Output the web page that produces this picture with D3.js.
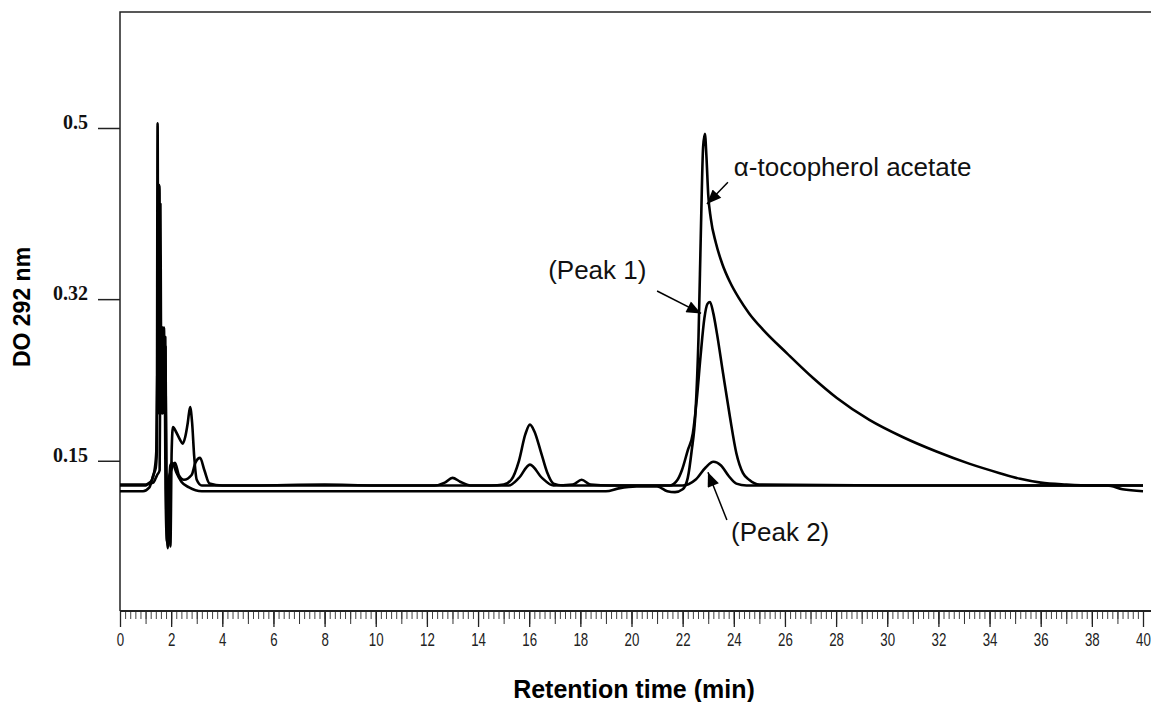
<!DOCTYPE html>
<html>
<head>
<meta charset="utf-8">
<script src="https://cdn.jsdelivr.net/npm/d3@7"></script>
<style>
  body { margin: 0; background: #fff; }
</style>
</head>
<body>
<div id="chrom"></div>
<script>
// retention time (min) / absorbance pairs
var standardTrace = [[0,0.118],[0.9,0.118],[1.15,0.122],[1.3,0.135],[1.4,0.143],[1.44,0.16],[1.47,0.505],[1.5,0.2],[1.54,0.44],[1.56,0.26],[1.58,0.42],[1.6,0.30],[1.63,0.2],[1.66,0.29],[1.69,0.21],[1.72,0.29],[1.75,0.2],[1.78,0.27],[1.82,0.09],[1.87,0.058],[1.92,0.12],[1.97,0.145],[2.05,0.148],[2.2,0.138],[2.4,0.128],[2.7,0.122],[3.2,0.118],[6,0.118],[10,0.118],[14,0.118],[19.0,0.118],[19.5,0.121],[20.2,0.123],[21.0,0.123],[21.4,0.118],[21.7,0.117],[22.0,0.12],[22.2,0.132],[22.35,0.16],[22.5,0.2],[22.62,0.28],[22.72,0.4],[22.8,0.48],[22.87,0.494],[22.93,0.47],[23.0,0.43],[23.1,0.405],[23.3,0.379],[23.55,0.357],[23.85,0.338],[24.2,0.321],[24.6,0.305],[25.14,0.288],[26.08,0.263],[27.1,0.237],[28.03,0.216],[29.3,0.193],[30.6,0.175],[31.9,0.16],[33.2,0.147],[34.4,0.137],[35.2,0.131],[36.0,0.127],[37.0,0.125],[38.0,0.124],[38.6,0.124],[39.2,0.12],[40,0.118]];

var peak1Trace = [[0,0.124],[1.0,0.124],[1.1,0.126],[1.25,0.13],[1.35,0.14],[1.42,0.16],[1.48,0.30],[1.53,0.437],[1.56,0.30],[1.59,0.22],[1.62,0.29],[1.65,0.287],[1.68,0.2],[1.71,0.28],[1.74,0.2],[1.77,0.28],[1.81,0.14],[1.86,0.12],[1.92,0.1],[1.97,0.06],[2.02,0.16],[2.07,0.1855],[2.2,0.18],[2.35,0.172],[2.45,0.168],[2.55,0.175],[2.65,0.19],[2.74,0.2066],[2.82,0.19],[2.9,0.155],[3.0,0.13],[3.2,0.124],[5,0.124],[8,0.125],[10,0.124],[12.3,0.124],[12.7,0.127],[13.0,0.132],[13.3,0.128],[13.7,0.124],[14.5,0.124],[15.0,0.125],[15.3,0.13],[15.6,0.15],[15.85,0.178],[16.03,0.188],[16.2,0.181],[16.45,0.16],[16.7,0.138],[16.95,0.126],[17.3,0.124],[20,0.124],[21.5,0.124],[21.8,0.13],[21.97,0.14],[22.2,0.161],[22.4,0.179],[22.55,0.214],[22.7,0.26],[22.85,0.30],[22.97,0.315],[23.07,0.317],[23.2,0.305],[23.34,0.284],[23.58,0.242],[23.85,0.196],[24.1,0.158],[24.36,0.137],[24.6,0.13],[25,0.125],[30,0.124],[35,0.124],[40,0.124]];

var peak2Trace = [[0,0.125],[1.0,0.125],[1.3,0.127],[1.45,0.135],[1.55,0.14],[1.58,0.27],[1.62,0.28],[1.65,0.2],[1.68,0.27],[1.71,0.21],[1.74,0.28],[1.78,0.12],[1.84,0.065],[1.9,0.13],[2.0,0.14],[2.15,0.148],[2.3,0.135],[2.5,0.13],[2.8,0.135],[2.95,0.148],[3.13,0.153],[3.3,0.14],[3.5,0.126],[4,0.124],[8,0.124],[12,0.124],[15.2,0.124],[15.6,0.132],[16.03,0.146],[16.5,0.132],[16.95,0.124],[17.7,0.125],[18.05,0.13],[18.4,0.125],[19.2,0.124],[22.0,0.124],[22.5,0.13],[22.9,0.143],[23.2,0.149],[23.5,0.145],[23.8,0.134],[24.1,0.126],[24.5,0.124],[30,0.124],[37,0.124],[40,0.124]];

var yTickValues = [0.15, 0.32, 0.5];
var xLabelTicks = d3.range(0, 41, 2);

// label text, label anchor (t, v), arrow tail and tip (t, v)
var notes = [
    {text: "\u03b1-tocopherol acetate", at: [24.0, 0.4495], from: [23.77, 0.443], to: [22.95, 0.42]},
    {text: "(Peak 1)", at: [16.74, 0.341], from: [21.0, 0.3286], to: [22.72, 0.305]},
    {text: "(Peak 2)", at: [23.89, 0.0656], from: [23.73, 0.0877], to: [22.99, 0.138]}
];

var width = 1151, height = 702;

var svg = d3.select("#chrom")
            .append("svg")
            .attr("width", width)
            .attr("height", height);

var x = d3.scaleLinear()
        .domain([0, 40])
        .range([120, 1143]);

var y = d3.scaleLinear()
        .domain([-0.008, 0.622])
        .range([611, 12]);

// frame: top and left edges
svg.append("path")
    .attr("d", "M" + width + "," + y.range()[1] + "H" + x.range()[0] + "V" + y.range()[0])
    .attr("fill", "none")
    .attr("stroke", "#222")
    .attr("stroke-width", 1.5);

// x axis: minor, integer and labelled ticks
var axisY = y.range()[0];
svg.append("g")
    .attr("transform", "translate(0," + axisY + ")")
    .call(d3.axisBottom(x).tickValues(d3.range(0, 200.5, 1).map(d => d / 5)).tickSize(8).tickFormat(""))
    .call(g => g.select(".domain").remove())
    .selectAll("line").attr("stroke", "#444");

svg.append("g")
    .attr("transform", "translate(0," + axisY + ")")
    .call(d3.axisBottom(x).tickValues(d3.range(0, 41, 1)).tickSize(13).tickFormat(""))
    .call(g => g.select(".domain").remove())
    .selectAll("line").attr("stroke", "#333");

var xAx = svg.append("g")
    .attr("transform", "translate(0," + axisY + ")")
    .call(d3.axisBottom(x).tickValues(xLabelTicks).tickSize(16).tickPadding(6).tickFormat(d => d));
xAx.select(".domain").remove();
xAx.selectAll("line").attr("stroke", "#222").attr("stroke-width", 1.3);
xAx.selectAll("text")
    .attr("transform", "scale(0.7,1)")
    .style("font", "19px 'Liberation Sans', Arial, sans-serif")
    .attr("fill", "#222");

svg.append("line")
    .attr("x1", x.range()[0]).attr("x2", width)
    .attr("y1", axisY).attr("y2", axisY)
    .attr("stroke", "#222")
    .attr("stroke-width", 2);

// y axis
var yAx = svg.append("g")
    .attr("transform", "translate(" + x.range()[0] + ",0)")
    .call(d3.axisLeft(y).tickValues(yTickValues).tickSize(22).tickPadding(10).tickFormat(d => String(d)));
yAx.select(".domain").remove();
yAx.selectAll("line").attr("stroke", "#222").attr("stroke-width", 1.5);
yAx.selectAll("text")
    .attr("y", -6)
    .style("font", "bold 20px 'Liberation Serif', 'Times New Roman', serif")
    .attr("fill", "#111");

// chromatogram traces
var line = d3.line()
            .x(d => x(d[0]))
            .y(d => y(d[1]))
            .curve(d3.curveMonotoneX);

svg.selectAll(".trace")
    .data([standardTrace, peak1Trace, peak2Trace])
    .join("path")
    .attr("class", "trace")
    .attr("d", line)
    .attr("fill", "none")
    .attr("stroke", "#000")
    .attr("stroke-width", 2.6)
    .attr("stroke-linejoin", "round");

// arrows and labels
svg.append("defs").append("marker")
    .attr("id", "head")
    .attr("viewBox", "0 0 12 10")
    .attr("refX", 12).attr("refY", 5)
    .attr("markerWidth", 16).attr("markerHeight", 12)
    .attr("markerUnits", "userSpaceOnUse")
    .attr("orient", "auto")
    .append("path")
    .attr("d", "M0,0L12,5L0,10Z")
    .attr("fill", "#000");

svg.selectAll(".arrow")
    .data(notes)
    .join("line")
    .attr("class", "arrow")
    .attr("x1", d => x(d.from[0])).attr("y1", d => y(d.from[1]))
    .attr("x2", d => x(d.to[0])).attr("y2", d => y(d.to[1]))
    .attr("stroke", "#000")
    .attr("stroke-width", 1.5)
    .attr("marker-end", "url(#head)");

svg.selectAll(".note")
    .data(notes)
    .join("text")
    .attr("class", "note")
    .attr("x", d => x(d.at[0]))
    .attr("y", d => y(d.at[1]))
    .text(d => d.text)
    .style("font", "26px 'Liberation Sans', Arial, sans-serif")
    .attr("fill", "#111");

// axis titles
svg.append("text")
    .attr("x", 634).attr("y", 698)
    .attr("text-anchor", "middle")
    .style("font", "bold 25px 'Liberation Sans', Arial, sans-serif")
    .text("Retention time (min)");

svg.append("text")
    .attr("transform", "translate(30,307)rotate(-90)")
    .attr("text-anchor", "middle")
    .style("font", "bold 23px 'Liberation Sans', Arial, sans-serif")
    .text("DO 292 nm");
</script>
</body>
</html>
